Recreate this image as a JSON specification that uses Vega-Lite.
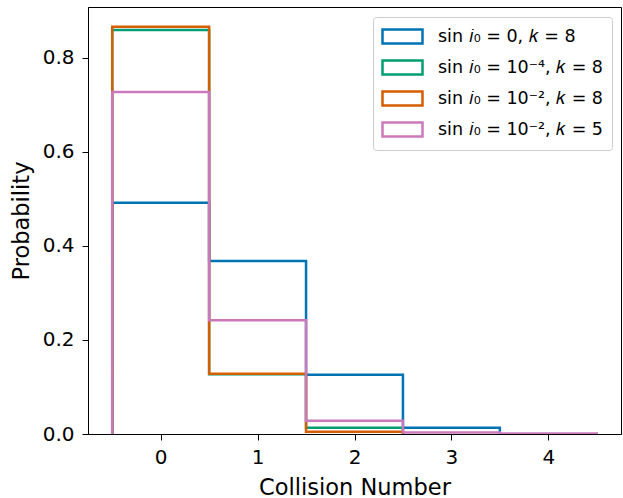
{
  "$schema": "https://vega.github.io/schema/vega-lite/v6.json",
  "width": 533,
  "height": 427,
  "autosize": {"type": "none"},
  "padding": {"left": 88, "top": 7, "right": 2, "bottom": 64},
  "background": "white",
  "config": {
    "view": {"stroke": "black", "strokeWidth": 1},
    "font": "DejaVu Sans",
    "axis": {
      "grid": false,
      "domainColor": "black",
      "tickColor": "black",
      "tickSize": 6,
      "labelFontSize": 20,
      "labelColor": "black",
      "titleFontSize": 22.5,
      "titleFontWeight": "normal",
      "titleColor": "black",
      "labelFont": "DejaVu Sans",
      "titleFont": "DejaVu Sans"
    }
  },
  "data": {
    "values": [
      {"s": "sin 𝑖₀ = 0, 𝑘 = 8", "i": 0, "x": -0.5, "p": 0},
      {"s": "sin 𝑖₀ = 0, 𝑘 = 8", "i": 1, "x": 0.5, "p": 0.492},
      {"s": "sin 𝑖₀ = 0, 𝑘 = 8", "i": 2, "x": 1.5, "p": 0.368},
      {"s": "sin 𝑖₀ = 0, 𝑘 = 8", "i": 3, "x": 2.5, "p": 0.126},
      {"s": "sin 𝑖₀ = 0, 𝑘 = 8", "i": 4, "x": 3.5, "p": 0.0135},
      {"s": "sin 𝑖₀ = 0, 𝑘 = 8", "i": 5, "x": 3.5, "p": 0},
      {"s": "sin 𝑖₀ = 10⁻⁴, 𝑘 = 8", "i": 0, "x": -0.5, "p": 0},
      {"s": "sin 𝑖₀ = 10⁻⁴, 𝑘 = 8", "i": 1, "x": 0.5, "p": 0.859},
      {"s": "sin 𝑖₀ = 10⁻⁴, 𝑘 = 8", "i": 2, "x": 1.5, "p": 0.127},
      {"s": "sin 𝑖₀ = 10⁻⁴, 𝑘 = 8", "i": 3, "x": 2.5, "p": 0.0135},
      {"s": "sin 𝑖₀ = 10⁻⁴, 𝑘 = 8", "i": 4, "x": 2.5, "p": 0},
      {"s": "sin 𝑖₀ = 10⁻², 𝑘 = 8", "i": 0, "x": -0.5, "p": 0},
      {"s": "sin 𝑖₀ = 10⁻², 𝑘 = 8", "i": 1, "x": 0.5, "p": 0.866},
      {"s": "sin 𝑖₀ = 10⁻², 𝑘 = 8", "i": 2, "x": 1.5, "p": 0.128},
      {"s": "sin 𝑖₀ = 10⁻², 𝑘 = 8", "i": 3, "x": 2.5, "p": 0.005},
      {"s": "sin 𝑖₀ = 10⁻², 𝑘 = 8", "i": 4, "x": 2.5, "p": 0},
      {"s": "sin 𝑖₀ = 10⁻², 𝑘 = 5", "i": 0, "x": -0.5, "p": 0},
      {"s": "sin 𝑖₀ = 10⁻², 𝑘 = 5", "i": 1, "x": 0.5, "p": 0.727},
      {"s": "sin 𝑖₀ = 10⁻², 𝑘 = 5", "i": 2, "x": 1.5, "p": 0.242},
      {"s": "sin 𝑖₀ = 10⁻², 𝑘 = 5", "i": 3, "x": 2.5, "p": 0.028},
      {"s": "sin 𝑖₀ = 10⁻², 𝑘 = 5", "i": 4, "x": 3.5, "p": 0.003},
      {"s": "sin 𝑖₀ = 10⁻², 𝑘 = 5", "i": 5, "x": 4.5, "p": 0.001},
      {"s": "sin 𝑖₀ = 10⁻², 𝑘 = 5", "i": 6, "x": 4.5, "p": 0}
    ]
  },
  "mark": {"type": "line", "interpolate": "step-before", "strokeWidth": 2.5, "clip": true},
  "encoding": {
    "x": {
      "field": "x", "type": "quantitative",
      "scale": {"domain": [-0.75, 4.75], "nice": false, "zero": false},
      "axis": {"values": [0, 1, 2, 3, 4], "format": "d", "title": "Collision Number", "labelPadding": 7, "titlePadding": 9}
    },
    "y": {
      "field": "p", "type": "quantitative",
      "scale": {"domain": [0, 0.908], "nice": false},
      "axis": {"values": [0, 0.2, 0.4, 0.6, 0.8], "format": ".1f", "title": "Probability", "labelPadding": 8, "titlePadding": 9}
    },
    "color": {
      "field": "s", "type": "nominal",
      "scale": {
        "domain": ["sin 𝑖₀ = 0, 𝑘 = 8", "sin 𝑖₀ = 10⁻⁴, 𝑘 = 8", "sin 𝑖₀ = 10⁻², 𝑘 = 8", "sin 𝑖₀ = 10⁻², 𝑘 = 5"],
        "range": ["#0173b2", "#029e73", "#d55e00", "#cc78bc"]
      },
      "legend": {
        "title": null,
        "orient": "none",
        "legendX": 285,
        "legendY": 10,
        "padding": 8,
        "strokeColor": "#cccccc",
        "fillColor": "white",
        "cornerRadius": 3,
        "symbolType": "M-2,-0.7H2V0.7H-2Z",
        "symbolSize": 400,
        "symbolOffset": 10,
        "symbolStrokeWidth": 2.5,
        "symbolFillColor": "transparent",
        "labelFontSize": 17.5,
        "labelColor": "black",
        "labelFont": "DejaVu Sans",
        "labelLimit": 400,
        "labelOffset": 24,
        "rowPadding": 6
      }
    },
    "order": {"field": "i", "type": "quantitative"}
  }
}
